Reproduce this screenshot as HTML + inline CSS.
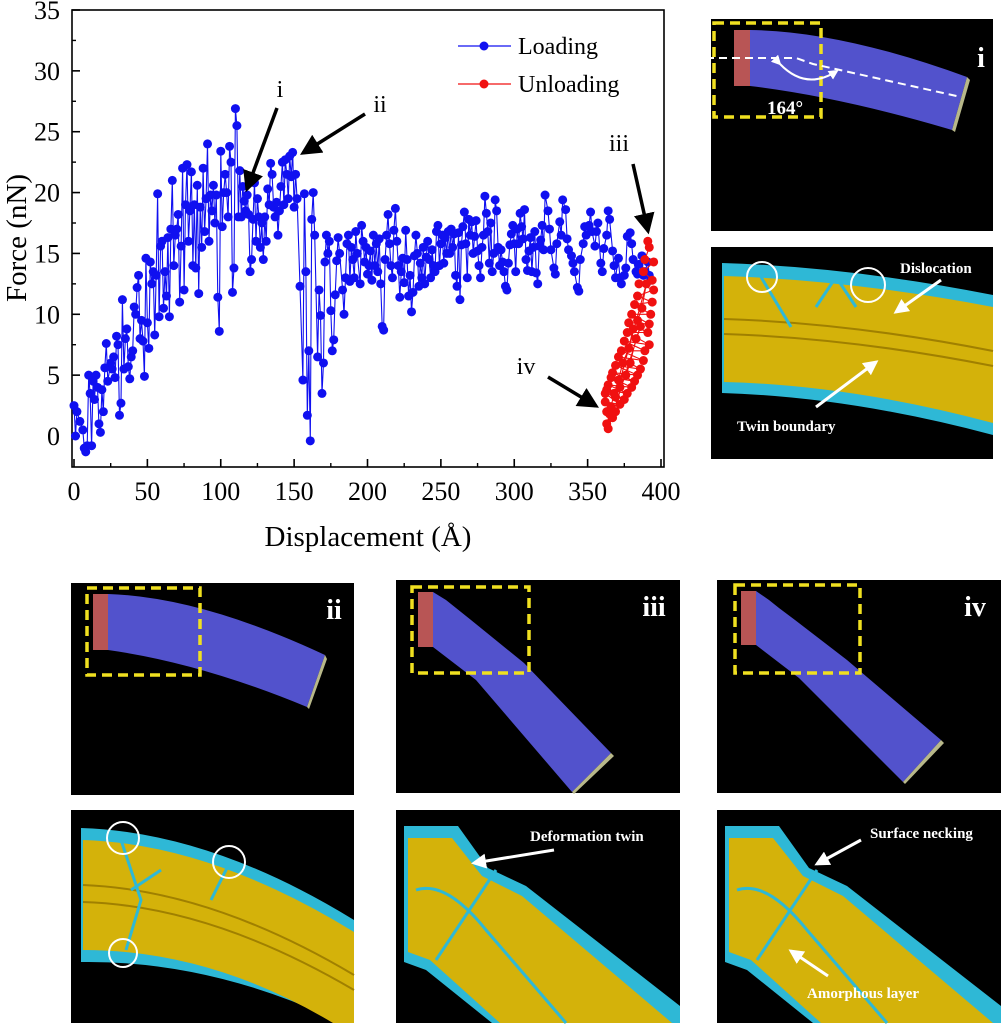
<!DOCTYPE html>
<html><head><meta charset="utf-8"><style>
html,body{margin:0;padding:0;background:#fff;}
svg{display:block;font-family:"Liberation Serif",serif;}
</style></head><body>
<svg id="fig" width="1002" height="1024" viewBox="0 0 1002 1024" xmlns="http://www.w3.org/2000/svg">
<defs>
<marker id="ah" markerWidth="6" markerHeight="6" refX="5" refY="3" orient="auto" markerUnits="strokeWidth"><path d="M0,0 L6,3 L0,6 z" fill="#000"/></marker>
<marker id="aw" markerWidth="5" markerHeight="5" refX="4" refY="2.5" orient="auto" markerUnits="strokeWidth"><path d="M0,0 L5,2.5 L0,5 z" fill="#fff"/></marker>
</defs>
<g id="chart"></g>

<g transform="translate(711,19)">
<rect width="282" height="212" fill="#000"/>
<path d="M39,11 Q130,12 256,58 L241,111 Q130,78 39,67 Z" fill="#5252cc"/>
<path d="M256,58 L259,61 L244,113 L241,111 Z" fill="#b8b88a"/>
<rect x="23" y="11" width="16" height="56" fill="#b85555"/>
<rect x="3" y="4" width="107" height="94" fill="none" stroke="#f0e020" stroke-width="3.5" stroke-dasharray="10,6"/>
<path d="M-5,39 L85,39 L102,45 L250,78" fill="none" stroke="#fff" stroke-width="2" stroke-dasharray="8,5"/>
<path d="M69,45 Q95,72 126,52" fill="none" stroke="#fff" stroke-width="2" marker-end="url(#aw)" marker-start="url(#aw)"/>
<text x="56" y="95" fill="#fff" font-size="19" font-weight="bold">164°</text>
<text x="270" y="48" fill="#fff" font-size="28" font-weight="bold" text-anchor="middle">i</text>
</g>

<g transform="translate(711,247)">
<rect width="282" height="212" fill="#000"/>
<path d="M11,16 Q140,20 282,48 L282,188 Q140,150 11,146 Z" fill="#2eb8d6"/>
<path d="M13,29 Q140,33 282,60 L282,176 Q140,138 13,135 Z" fill="#d4b20a"/>
<path d="M13,72 Q140,76 282,104" fill="none" stroke="#a08000" stroke-width="2"/>
<path d="M13,87 Q140,91 282,119" fill="none" stroke="#a08000" stroke-width="2"/>
<path d="M50,30 L80,80 M105,60 L125,30 L145,60" fill="none" stroke="#2eb8d6" stroke-width="3"/>
<circle cx="51" cy="30" r="15" fill="none" stroke="#fff" stroke-width="2"/>
<circle cx="157" cy="38" r="17" fill="none" stroke="#fff" stroke-width="2"/>
<text x="189" y="26" fill="#fff" font-size="15" font-weight="bold">Dislocation</text>
<line x1="230" y1="33" x2="185" y2="65" stroke="#fff" stroke-width="3" marker-end="url(#aw)"/>
<text x="26" y="184" fill="#fff" font-size="15" font-weight="bold">Twin boundary</text>
<line x1="105" y1="160" x2="165" y2="115" stroke="#fff" stroke-width="3" marker-end="url(#aw)"/>
</g>

<g transform="translate(71,583)">
<rect width="283" height="212" fill="#000"/>
<path d="M37,11 Q130,14 254,72 L236,124 Q130,80 37,67 Z" fill="#5252cc"/>
<path d="M254,72 L256,76 L238,126 L236,124 Z" fill="#b8b88a"/>
<rect x="22" y="11" width="15" height="56" fill="#b85555"/>
<rect x="16" y="5" width="113" height="87" fill="none" stroke="#f0e020" stroke-width="3.5" stroke-dasharray="10,6"/>
<text x="263" y="36" fill="#fff" font-size="28" font-weight="bold" text-anchor="middle">ii</text>
</g>
<g transform="translate(396,580)">
<rect width="284" height="213" fill="#000"/>
<path d="M37,12 L50,20 L60,28 L75,40 L128,83 L215,173 L176,212 L80,100 L37,67 Z" fill="#5252cc"/>
<path d="M215,173 L218,176 L178,214 L176,212 Z" fill="#b8b88a"/>
<rect x="22" y="12" width="15" height="55" fill="#b85555"/>
<rect x="16" y="7" width="117" height="86" fill="none" stroke="#f0e020" stroke-width="3.5" stroke-dasharray="10,6"/>
<text x="258" y="36" fill="#fff" font-size="28" font-weight="bold" text-anchor="middle">iii</text>
</g>
<g transform="translate(717,580)">
<rect width="284" height="213" fill="#000"/>
<path d="M39,11 L52,20 L62,28 L78,40 L130,80 L224,160 L186,202 L82,98 L39,65 Z" fill="#5252cc"/>
<path d="M224,160 L227,163 L188,204 L186,202 Z" fill="#b8b88a"/>
<rect x="24" y="11" width="15" height="54" fill="#b85555"/>
<rect x="18" y="5" width="125" height="88" fill="none" stroke="#f0e020" stroke-width="3.5" stroke-dasharray="10,6"/>
<text x="258" y="36" fill="#fff" font-size="28" font-weight="bold" text-anchor="middle">iv</text>
</g>

<g transform="translate(71,810)">
<rect width="283" height="213" fill="#000"/>
<path d="M10,18 Q140,22 283,110 L283,213 L272,213 Q140,150 10,152 Z" fill="#2eb8d6"/>
<path d="M12,30 Q140,34 283,122 L283,213 L262,213 Q140,140 12,140 Z" fill="#d4b20a"/>
<path d="M12,75 Q140,80 283,165 M12,92 Q140,96 283,180" fill="none" stroke="#a08000" stroke-width="2"/>
<path d="M50,30 L70,90 L55,140 M140,90 L160,50 M60,80 L90,60" fill="none" stroke="#2eb8d6" stroke-width="3"/>
<circle cx="52" cy="28" r="16" fill="none" stroke="#fff" stroke-width="2"/>
<circle cx="158" cy="52" r="16" fill="none" stroke="#fff" stroke-width="2"/>
<circle cx="52" cy="143" r="14" fill="none" stroke="#fff" stroke-width="2"/>
</g>
<g transform="translate(396,810)">
<rect width="284" height="213" fill="#000"/>
<path d="M8,16 L62,16 L92,58 L130,76 L284,196 L284,213 L96,213 L30,160 L8,152 Z" fill="#2eb8d6"/>
<path d="M12,28 L56,28 L86,66 L126,86 L276,213 L104,213 L34,150 L12,142 Z" fill="#d4b20a"/>
<path d="M20,80 Q50,70 90,120 L170,213 M40,150 L100,60" fill="none" stroke="#2eb8d6" stroke-width="3"/>
<text x="134" y="31" fill="#fff" font-size="15" font-weight="bold">Deformation twin</text>
<line x1="158" y1="40" x2="78" y2="53" stroke="#fff" stroke-width="3" marker-end="url(#aw)"/>
</g>
<g transform="translate(717,810)">
<rect width="284" height="213" fill="#000"/>
<path d="M8,16 L62,16 L92,58 L130,76 L284,196 L284,213 L96,213 L30,160 L8,152 Z" fill="#2eb8d6"/>
<path d="M12,28 L56,28 L86,66 L126,86 L276,213 L104,213 L34,150 L12,142 Z" fill="#d4b20a"/>
<path d="M20,80 Q50,70 90,120 L170,213 M40,150 L100,60" fill="none" stroke="#2eb8d6" stroke-width="3"/>
<text x="153" y="28" fill="#fff" font-size="15" font-weight="bold">Surface necking</text>
<line x1="144" y1="30" x2="100" y2="54" stroke="#fff" stroke-width="3" marker-end="url(#aw)"/>
<text x="90" y="188" fill="#fff" font-size="15" font-weight="bold">Amorphous layer</text>
<line x1="111" y1="166" x2="74" y2="141" stroke="#fff" stroke-width="3" marker-end="url(#aw)"/>
</g>
</svg>
<script>
const loadDisp = [0,1,2,4,6,7,8,9,10,11,12,13,14,15,16,17,18,19,20,21,22,23,25,26,27,28,29,30,31,32,33,34,35,36,37,38,39,40,41,42,43,44,45,46,47,48,49,50,51,52,53,54,55,56,57,58,59,60,61,62,63,64,65,66,67,68,69,70,71,72,73,74,75,76,77,78,79,80,81,82,83,84,85,86,87,88,89,90,91,92,93,94,95,96,97,98,99,100,101,102,103,104,105,106,107,108,109,110,111,112,113,114,115,116,117,118,119,120,121,122,123,124,125,126,127,128,129,130,131,132,133,134,135,136,137,138,139,140,141,142,143,144,145,146,147,148,149,150,151,152,154,156,157,158,159,160,161,162,163,164,166,167,168,169,170,171,172,173,174,175,176,177,178,179,180,181,183,184,185,186,187,188,189,190,191,192,193,195,196,197,198,199,200,201,202,203,204,205,206,207,208,209,210,211,212,213,214,215,216,217,218,219,220,221,222,223,224,225,226,227,228,229,230,231,232,233,234,235,236,237,238,239,240,241,242,243,244,245,246,247,248,249,250,251,252,253,254,255,256,257,258,259,260,261,262,263,264,265,266,267,268,269,270,271,272,273,274,275,276,277,278,279,280,281,282,283,284,285,286,287,288,289,290,291,292,293,294,295,296,297,298,299,300,301,302,303,304,305,306,307,308,309,310,311,312,313,314,315,316,317,318,319,320,321,323,324,325,327,328,329,331,332,333,335,336,337,339,340,341,343,344,345,347,348,349,351,352,353,355,356,357,359,360,361,363,364,365,367,368,369,371,372,373,375,376,377,379,380,381,383,384,385,387,388,389,391,392,393];
const loadForce = [2.5,0,2,1.2,0.5,-1,-1.3,-0.8,5,3.5,-0.8,4.5,3,5,4,1,0.3,3.8,2,5.6,7.6,4.5,6,5.5,6.5,4.8,8.2,7.5,1.7,2.7,11.2,5.5,8,8.8,5.7,4.7,6.5,7,10.6,10,12.2,13.2,8,9.5,7.8,4.9,14.6,9.3,7.2,14.3,12.5,13.5,8.3,13.2,19.9,9.8,15.6,16,10.5,13.5,11.5,16.3,9.8,17,21,14,16.5,17,18.2,11,15.6,22,12,19,22.3,16,18.5,21.7,14,19,13.8,20.6,11.7,18.8,15.5,22,16.8,19.5,24,16,19.8,18.5,20.6,17.5,19.8,11.4,8.6,23.4,17.2,20,21.5,20,18,23.8,22.5,11.8,13.8,26.9,25.5,18,21.8,18,20.5,19.3,18.5,19.8,18.2,13.5,14.5,17.8,20.8,16,19.5,18,15.5,17.5,14.5,18,16,20.3,19,22.4,21.5,18.8,18,19.2,16.5,18.5,20.5,22.5,19,22.7,21.5,19.5,23,21.3,23.3,18.8,21.5,19.5,12.3,4.6,19.9,13.5,1.7,7,-0.4,17.8,20,16.5,6.5,12,9.9,3.5,6,14.3,16.5,15,16,10.3,7,7.9,11.6,14.4,16.3,15,12,10,13,15.8,16.5,12.7,15.5,14.5,13,16.8,15,12.5,17.3,16,14.3,15.5,13.3,14,15.2,12.8,16.5,14,15.8,13.5,16.2,12.5,9,8.7,14.5,16.5,18.2,15.8,14,13,16.9,18.7,16,14,11.4,13.5,14.6,12.6,16.9,14.5,11.5,13.2,10.2,11.8,14.8,16.5,15,12.3,14.2,13,15.5,12.5,14.7,16,14.5,13,15.3,14,13.5,16.8,17.3,14,15.8,16.5,14.2,16.3,15,16.8,15,17,15.5,16.6,13.2,12.3,16.7,11.2,15.7,17.2,18.4,15.8,13,17.8,16.5,17.6,15,16.4,17.7,15.2,14,13,15.5,16.5,19.7,18.3,16.8,14.2,17.5,13.5,15,19.4,18.5,15.5,14,15.3,14.3,13.5,12.3,12,14.2,15.7,16.6,17.3,15.8,13.5,17,15.8,18.3,17.2,16.2,18.6,14.5,13.6,15.2,16.3,13.5,15.5,16.8,13.4,12.5,15.6,16.1,17.3,15.3,19.8,18.5,17,15.3,13.8,13.3,15.8,17.6,16.5,19.4,18.6,16.2,15.3,14.8,14.2,13.5,12.2,11.9,14.5,15.8,17.2,16.5,17.3,18.4,16.8,15.6,16.8,17.5,14.2,13.5,15.4,16.5,18.5,17.8,15.2,14,13,14.6,13,12.5,13.2,13.8,16.4,16.7,15.8,14.5,13.5,13.3,14.1,14.8,13.2,13.5,14.3,13.2,12.8,14.5,13,16.5,16,15.5,14,13,12.8,13.3,12.5,13.1];
const unloadDisp = [391,392,389,395,388,394,385,395,384,394,382,393,380,392,378,391,377,392,375,389,373,388,371,386,369,384,367,382,366,380,364,377,363,375,362,372,362,369,363,367,363,365,364,386,383,379,376,372,369,390,387,384,381,378,374,371,368,366];
const unloadForce = [16,15.5,14.5,14.3,13.5,12.8,12.5,12,11.5,11,10.8,10,10,9.2,9.3,8.5,8.5,7.5,7.8,7,7,6.2,6.5,5.5,5.8,5,5.2,4.5,4.8,4,4.2,3.5,3.8,3,3.5,2.6,2.8,2,2,1.5,1,1.8,0.6,9,8,6,5,4,3.2,12.5,10.5,9.5,8.8,7.2,6,4.6,3.5,2.4];
const xTicks = [0,50,100,150,200,250,300,350,400];
const yTicks = [0,5,10,15,20,25,30,35];

const NS = 'http://www.w3.org/2000/svg';
const chart = document.getElementById('chart');
const L=72,R=664,T=10,B=467;
function xs(v){return 74 + v*(661-74)/400;}
function ys(v){return 436 - v*(436-10)/35;}
function mk(tag, attrs, parent){const e=document.createElementNS(NS,tag);for(const k in attrs)e.setAttribute(k,attrs[k]);(parent||chart).appendChild(e);return e;}

let fr = mk('rect',{x:L,y:T,width:R-L,height:B-T,fill:'none',stroke:'#000','stroke-width':1.6});



xTicks.forEach(v=>{
  let t=mk('line',{x1:xs(v),x2:xs(v),y1:B,y2:B-8,stroke:'#000','stroke-width':1.6});
  
  
  if(v<400){let m=mk('line',{x1:xs(v+25),x2:xs(v+25),y1:B,y2:B-4,stroke:'#000','stroke-width':1.4});
  
  }
  let lb=mk('text',{x:xs(v),y:500,'text-anchor':'middle','font-size':26});
  lb.textContent=v;
  
  
});
yTicks.forEach(v=>{
  let t=mk('line',{x1:L,x2:L+8,y1:ys(v),y2:ys(v),stroke:'#000','stroke-width':1.6});
  
  
  let m=mk('line',{x1:L,x2:L+4,y1:ys(v+2.5),y2:ys(v+2.5),stroke:'#000','stroke-width':1.4});
  
  
  let lb=mk('text',{x:60,y:ys(v)+9,'text-anchor':'end','font-size':26});
  lb.textContent=v;
  
  
});
let xt=mk('text',{x:368,y:546,'text-anchor':'middle','font-size':29});
xt.textContent='Displacement (Å)';


let yt=mk('text',{x:0,y:0,'text-anchor':'middle','font-size':29,transform:'translate(26,238) rotate(-90)'});
yt.textContent='Force (nN)';



function series(dx,dy,color,name){
  const n=Math.min(dx.length,dy.length);
  const g=mk('g',{});
  
  
  let d='';
  for(let i=0;i<n;i++) d+=(i?'L':'M')+xs(dx[i]).toFixed(1)+','+ys(dy[i]).toFixed(1)+' ';
  let p=mk('path',{d:d,fill:'none',stroke:color,'stroke-width':1.1},g);
  
  
  for(let i=0;i<n;i++){
    let c=mk('circle',{cx:xs(dx[i]),cy:ys(dy[i]),r:4.5,fill:color},g);
    
    
  }
}
series(loadDisp,loadForce,'#1010f0','loading-series');
series(unloadDisp,unloadForce,'#f01010','unloading-series');

[['Loading','#1010f0',46],['Unloading','#f01010',84]].forEach(([lab,c,y])=>{
  let g=mk('g',{});
  
  
  mk('line',{x1:458,x2:511,y1:y,y2:y,stroke:c,'stroke-width':1.3},g);
  mk('circle',{cx:484,cy:y,r:4.5,fill:c},g);
  let t=mk('text',{x:518,y:y+8,'font-size':24},g);
  t.textContent=lab;
});
[['i',280,97,277,108,247,189],['ii',380,112,365,114,303,153],['iii',619,151,633,164,648,231],['iv',526,374,548,377,596,406]].forEach(([lab,tx,ty,x1,y1,x2,y2])=>{
  let g=mk('g',{});
  
  
  let t=mk('text',{x:tx,y:ty,'text-anchor':'middle','font-size':24},g);
  t.textContent=lab;
  mk('line',{x1:x1,y1:y1,x2:x2,y2:y2,stroke:'#000','stroke-width':3.5,'marker-end':'url(#ah)'},g);
});
</script>
</body></html>
